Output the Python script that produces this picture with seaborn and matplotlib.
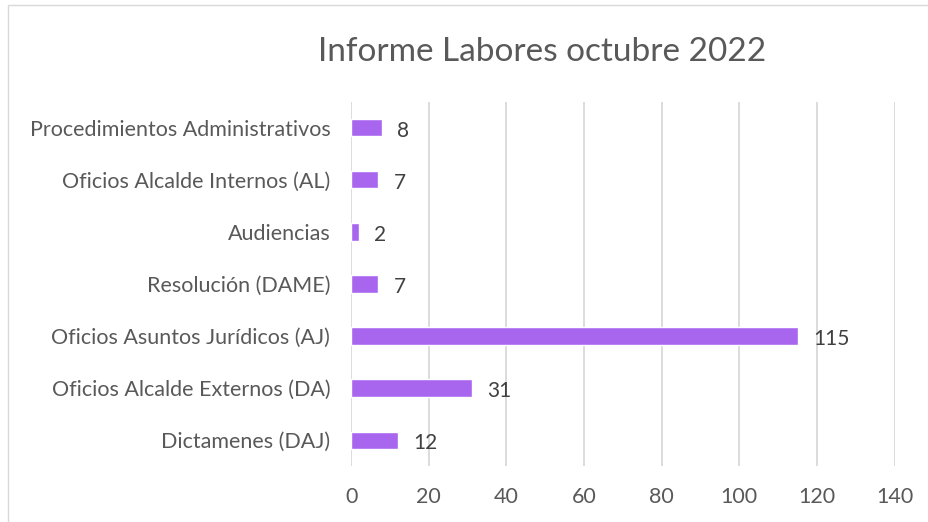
import matplotlib
matplotlib.use("Agg")
import matplotlib.pyplot as plt
import seaborn as sns
import pandas as pd
from matplotlib.patches import Rectangle

# Chart data (top to bottom as shown)
categories = [
    "Procedimientos Administrativos",
    "Oficios Alcalde Internos (AL)",
    "Audiencias",
    "Resolución (DAME)",
    "Oficios Asuntos Jurídicos (AJ)",
    "Oficios Alcalde Externos (DA)",
    "Dictamenes (DAJ)",
]
values = [8, 7, 2, 7, 115, 31, 12]
x_ticks = [0, 20, 40, 60, 80, 100, 120, 140]
title = "Informe Labores octubre 2022"

df = pd.DataFrame({"categoria": categories, "valor": values})

sns.set_theme(style="white")
plt.rcParams["font.family"] = ["Lato", "DejaVu Sans"]

fig = plt.figure(figsize=(9.29, 5.22), dpi=100)
ax = fig.add_axes([0.378, 0.107, 0.585, 0.698])

sns.barplot(data=df, x="valor", y="categoria", color="#A865EE",
            width=0.33, saturation=1, ax=ax, orient="h")

labels = ax.bar_label(ax.containers[0], padding=11, fontsize=15, color="#404040")
for t in labels:
    # Excel puts the labels a touch below the bar centre
    t.xyann = (t.xyann[0], -2)

ax.set_xlim(0, 140)
ax.set_xticks(x_ticks)
ax.set_xlabel("")
ax.set_ylabel("")
ax.xaxis.grid(True, color="#D9D9D9", linewidth=1.3)
ax.set_axisbelow(True)
for s in ax.spines.values():
    s.set_visible(False)
ax.tick_params(axis="both", length=0, labelsize=15.5, labelcolor="#595959")
ax.tick_params(axis="x", pad=15)
ax.tick_params(axis="y", pad=15)

fig.text(542 / 929, 1 - 52 / 522, title, ha="center", va="center",
         fontsize=24, color="#595959")

# light chart-area border
fig.patches.append(Rectangle((8 / 929, -0.01), 1.0, 1 - 5 / 522 + 0.01,
                             transform=fig.transFigure, fill=False,
                             edgecolor="#D9D9D9", linewidth=1))

fig.savefig("out.png", dpi=100)
